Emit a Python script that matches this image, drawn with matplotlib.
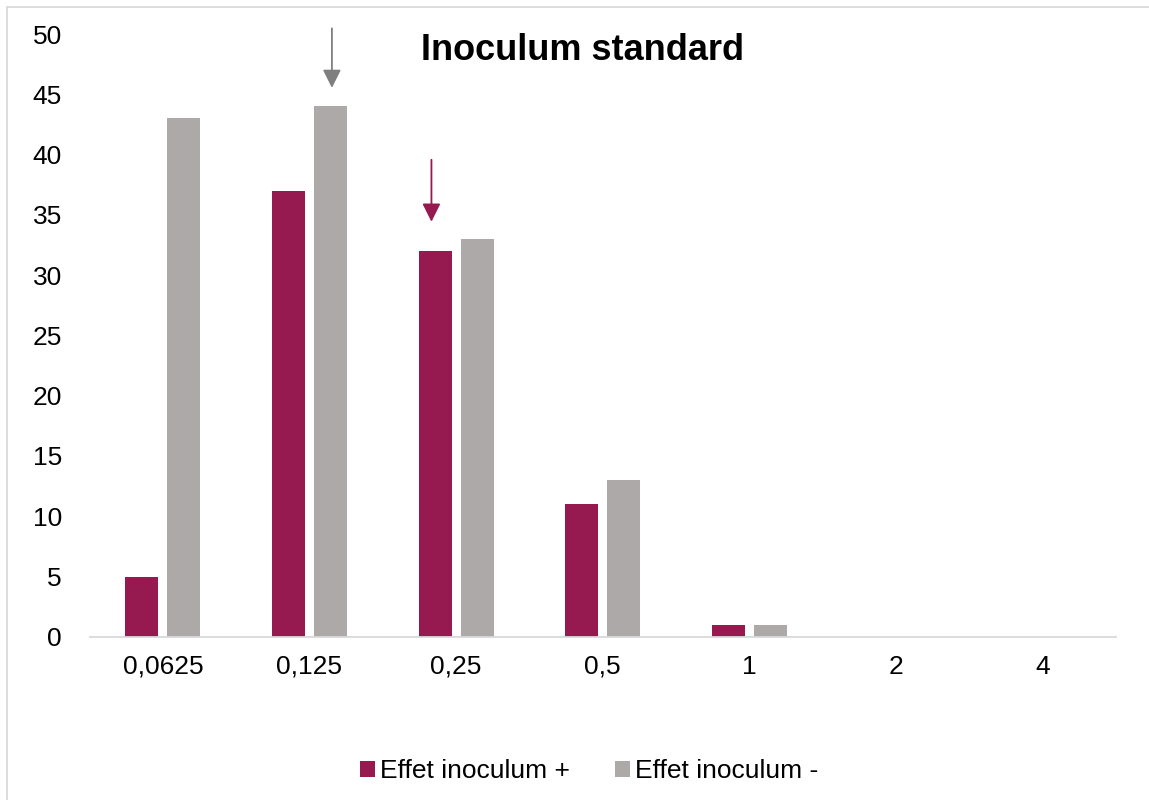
import matplotlib.pyplot as plt
import matplotlib.patches as mpatches
import numpy as np

plt.rcParams['font.family'] = ['Liberation Sans', 'DejaVu Sans']

categories = ["0,0625", "0,125", "0,25", "0,5", "1", "2", "4"]
effet_plus = [5, 37, 32, 11, 1, 0, 0]
effet_moins = [43, 44, 33, 13, 1, 0, 0]

pink = "#961A50"
grey = "#ADA9A8"

fig = plt.figure(figsize=(11.49, 8), dpi=100)
ax = fig.add_axes([0.078, 0.204, 0.893, 0.7535])

x = np.arange(len(categories))
w = 0.225
off = 0.143
b1 = ax.bar(x - off, effet_plus, w, color=pink, label="Effet inoculum +")
b2 = ax.bar(x + off, effet_moins, w, color=grey, label="Effet inoculum -")

ax.set_xlim(-0.5, len(categories) - 0.5)
ax.set_ylim(0, 50)
ax.set_yticks(range(0, 51, 5))
ax.set_xticks(x)
ax.set_xticklabels(categories)
ax.tick_params(axis='both', length=0, labelsize=19)
ax.tick_params(axis='x', pad=13)
ax.tick_params(axis='y', pad=20)
for s in ["top", "right", "left"]:
    ax.spines[s].set_visible(False)
ax.spines["bottom"].set_color("#D9D9D9")
ax.spines["bottom"].set_linewidth(1.3)

# arrows pointing at the modal bars
head = "-|>,head_length=1.1,head_width=0.55"
ax.annotate("", xy=(1 + off + 0.01, 45.3), xytext=(1 + off + 0.01, 50.7),
            arrowprops=dict(arrowstyle=head, color="#7F7F7F", lw=1.3),
            annotation_clip=False)
ax.annotate("", xy=(2 - off - 0.025, 34.2), xytext=(2 - off - 0.025, 39.8),
            arrowprops=dict(arrowstyle=head, color=pink, lw=1.3),
            annotation_clip=False)

fig.text(583 / 1149, 1 - 50 / 800, "Inoculum standard", fontsize=26,
         fontweight="bold", ha="center", va="center")

fig.legend(handles=[b1, b2], loc="center", bbox_to_anchor=(0.513, 1 - 771 / 800),
           ncol=2, frameon=False, fontsize=19, handlelength=0.57,
           handleheight=0.57, handletextpad=0.2, columnspacing=1.7)

# outer chart frame
fig.patches.append(mpatches.Rectangle((7 / 1149, -0.01), 1.1, 1 - 7 / 800 + 0.01,
                                      transform=fig.transFigure, fill=False,
                                      edgecolor="#D9D9D9", lw=1.3))

fig.savefig("out.png", dpi=100)
